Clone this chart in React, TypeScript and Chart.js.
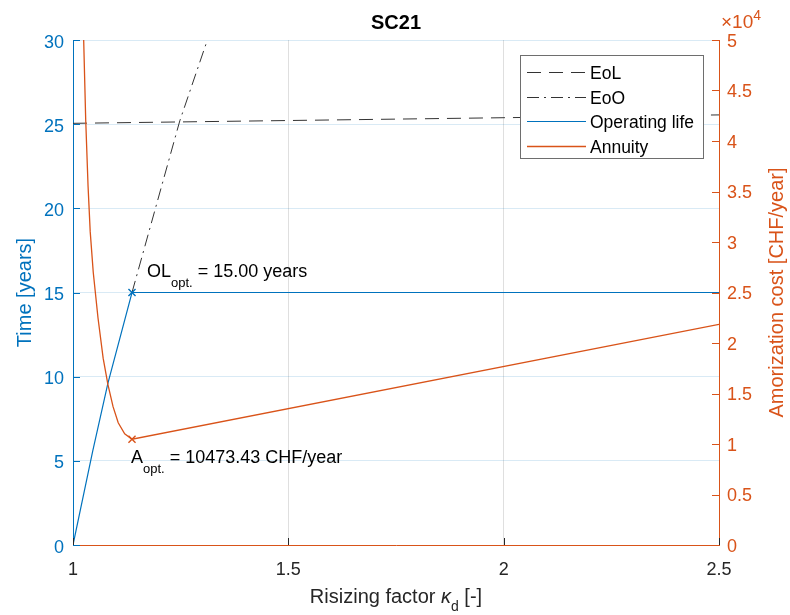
import React, { useEffect, useRef } from "react";
import { Chart, registerables } from "chart.js";

Chart.register(...registerables);

// ---- data -------------------------------------------------------------
const kappaTicks = [1, 1.5, 2, 2.5];
const timeTicks = [0, 5, 10, 15, 20, 25, 30];
const costTicks = [0, 5000, 10000, 15000, 20000, 25000, 30000, 35000, 40000, 45000, 50000];

// End of life (calendar ageing limit)
const eolKappa = [1.0, 2.5];
const eolYears = [25.05, 25.55];

// End of operation (cycling limit)
const eooKappa = [1.137, 1.248, 1.312];
const eooYears = [15.0, 25.2, 30.0];

// Resulting operating life
const olKappa = [1.0, 1.046, 1.081, 1.137, 2.5];
const olYears = [0, 5.6, 9.6, 15.0, 15.0];

// Annuity of the amortization cost
const annuityKappa = [1.0225, 1.0248, 1.0295, 1.035, 1.04, 1.047, 1.058, 1.07, 1.081, 1.093, 1.105, 1.12, 1.137, 2.5];
const annuityCost = [56000, 50000, 42100, 35500, 31000, 27000, 22500, 18500, 15900, 13700, 12100, 11000, 10473.43, 21850];

// Optimum
const kappaOpt = 1.137;
const olOpt = 15.0;
const annuityOpt = 10473.43;

// ---- styling ------------------------------------------------------------
const BLUE = "#0072BD";
const ORANGE = "#D95319";
const DARK = "#262626";
const FONT = '"Liberation Sans", Arial, Helvetica, sans-serif';

type Run = { text: string; size: number; dy?: number; italic?: boolean; bold?: boolean; color?: string };

const fontOf = (r: Run) => `${r.italic ? "italic " : ""}${r.bold ? "bold " : ""}${r.size}px ${FONT}`;

function runsWidth(ctx: CanvasRenderingContext2D, runs: Run[]) {
  let w = 0;
  for (const r of runs) {
    ctx.font = fontOf(r);
    w += ctx.measureText(r.text).width;
  }
  return w;
}

function drawRuns(
  ctx: CanvasRenderingContext2D,
  runs: Run[],
  x: number,
  y: number,
  align: "left" | "center" | "right",
  color: string
) {
  const w = runsWidth(ctx, runs);
  let cx = align === "center" ? x - w / 2 : align === "right" ? x - w : x;
  ctx.textAlign = "left";
  ctx.textBaseline = "alphabetic";
  for (const r of runs) {
    ctx.font = fontOf(r);
    ctx.fillStyle = r.color ?? color;
    ctx.fillText(r.text, cx, y + (r.dy ?? 0));
    cx += ctx.measureText(r.text).width;
  }
}

const pts = (xs: number[], ys: number[]) => xs.map((x, i) => ({ x, y: ys[i] }));

const fmtCost = (v: number) => String(Math.round((v / 10000) * 10) / 10);

// Axis decorations in the style of a yyaxis figure: inward ticks, labels,
// titles, exponent, annotations and an inset legend.
const decorations = {
  id: "yyDecorations",
  afterDraw(chart: any) {
    const { ctx, chartArea: ca, scales } = chart;
    const sx = scales.x;
    const yl = scales.y;
    const yr = scales.y2;
    const tick = 7;
    ctx.save();

    // inward tick marks
    ctx.lineWidth = 1;
    ctx.strokeStyle = BLUE;
    ctx.beginPath();
    for (const v of timeTicks) {
      const py = Math.round(yl.getPixelForValue(v)) + 0.5;
      ctx.moveTo(ca.left, py);
      ctx.lineTo(ca.left + tick, py);
    }
    ctx.stroke();
    ctx.strokeStyle = ORANGE;
    ctx.beginPath();
    for (const v of costTicks) {
      const py = Math.round(yr.getPixelForValue(v)) + 0.5;
      ctx.moveTo(ca.right, py);
      ctx.lineTo(ca.right - tick, py);
    }
    ctx.stroke();
    ctx.strokeStyle = DARK;
    ctx.beginPath();
    for (const v of kappaTicks) {
      const px = Math.round(sx.getPixelForValue(v)) + 0.5;
      ctx.moveTo(px, ca.bottom);
      ctx.lineTo(px, ca.bottom - tick);
    }
    ctx.stroke();

    // tick labels
    for (const v of timeTicks) {
      drawRuns(ctx, [{ text: String(v), size: 18 }], ca.left - 9, yl.getPixelForValue(v) + 7.5, "right", BLUE);
    }
    for (const v of costTicks) {
      drawRuns(ctx, [{ text: fmtCost(v), size: 18 }], ca.right + 8, yr.getPixelForValue(v) + 6.5, "left", ORANGE);
    }
    for (const v of kappaTicks) {
      drawRuns(ctx, [{ text: String(v), size: 18 }], sx.getPixelForValue(v), ca.bottom + 30, "center", DARK);
    }

    // exponent of the right axis
    drawRuns(
      ctx,
      [
        { text: "\u00d7", size: 19 },
        { text: "10", size: 19 },
        { text: "4", size: 14, dy: -8 },
      ],
      ca.right + 2,
      28,
      "left",
      ORANGE
    );

    // title
    drawRuns(ctx, [{ text: "SC21", size: 20, bold: true }], (ca.left + ca.right) / 2, 29, "center", "#000");

    // x-axis title
    drawRuns(
      ctx,
      [
        { text: "Risizing factor ", size: 20 },
        { text: "\u03ba", size: 20, italic: true },
        { text: "d", size: 14, dy: 8 },
        { text: " [-]", size: 20 },
      ],
      (ca.left + ca.right) / 2,
      603,
      "center",
      DARK
    );

    // rotated y-axis titles
    const midY = (ca.top + ca.bottom) / 2;
    ctx.save();
    ctx.translate(31, midY);
    ctx.rotate(-Math.PI / 2);
    drawRuns(ctx, [{ text: "Time [years]", size: 20 }], 0, 0, "center", BLUE);
    ctx.restore();
    ctx.save();
    ctx.translate(783, midY);
    ctx.rotate(-Math.PI / 2);
    drawRuns(ctx, [{ text: "Amorization cost [CHF/year]", size: 20 }], 0, 0, "center", ORANGE);
    ctx.restore();

    // annotations at the optimum
    const pxOpt = sx.getPixelForValue(kappaOpt);
    const pyOl = yl.getPixelForValue(olOpt);
    const pyA = yr.getPixelForValue(annuityOpt);
    drawRuns(
      ctx,
      [
        { text: "OL", size: 18 },
        { text: "opt.", size: 13, dy: 10 },
        { text: ` = ${olOpt.toFixed(2)} years`, size: 18 },
      ],
      pxOpt + 15,
      pyOl - 16,
      "left",
      "#000"
    );
    drawRuns(
      ctx,
      [
        { text: "A", size: 18 },
        { text: "opt.", size: 13, dy: 10 },
        { text: ` = ${annuityOpt.toFixed(2)} CHF/year`, size: 18 },
      ],
      pxOpt - 1,
      pyA + 24,
      "left",
      "#000"
    );

    // inset legend
    const lx = 520.5;
    const ly = 55.5;
    const lw = 183;
    const lh = 103;
    ctx.fillStyle = "#fff";
    ctx.fillRect(lx, ly, lw, lh);
    ctx.strokeStyle = "#6e6e6e";
    ctx.lineWidth = 1;
    ctx.setLineDash([]);
    ctx.strokeRect(lx, ly, lw, lh);
    const rows = chart.data.datasets.filter((d: any) => d.inLegend);
    rows.forEach((d: any, i: number) => {
      const cy = Math.round(72 + i * 24.5) + 0.5;
      ctx.strokeStyle = d.borderColor;
      ctx.lineWidth = d.borderWidth;
      ctx.setLineDash(d.borderDash || []);
      ctx.beginPath();
      ctx.moveTo(527, cy);
      ctx.lineTo(586, cy);
      ctx.stroke();
      ctx.setLineDash([]);
      drawRuns(ctx, [{ text: d.label, size: 17.5 }], 590, cy + 6.5, "left", "#000");
    });

    ctx.restore();
  },
};

export default function App() {
  const ref = useRef<HTMLCanvasElement | null>(null);

  useEffect(() => {
    document.body.style.margin = "0";
    const canvas = ref.current;
    if (!canvas) return;

    const chart = new Chart(canvas, {
      type: "line",
      data: {
        datasets: [
          {
            label: "EoL",
            inLegend: true,
            data: pts(eolKappa, eolYears),
            yAxisID: "y",
            borderColor: "#333333",
            borderWidth: 1,
            borderDash: [14, 8],
            pointRadius: 0,
            tension: 0,
            order: 6,
          },
          {
            label: "EoO",
            inLegend: true,
            data: pts(eooKappa, eooYears),
            yAxisID: "y",
            borderColor: "#333333",
            borderWidth: 1,
            borderDash: [12, 5, 2, 5],
            pointRadius: 0,
            tension: 0,
            order: 5,
          },
          {
            label: "Operating life",
            inLegend: true,
            data: pts(olKappa, olYears),
            yAxisID: "y",
            borderColor: BLUE,
            borderWidth: 1.2,
            pointRadius: 0,
            tension: 0,
            order: 4,
          },
          {
            label: "Annuity",
            inLegend: true,
            data: pts(annuityKappa, annuityCost),
            yAxisID: "y2",
            borderColor: ORANGE,
            borderWidth: 1.3,
            pointRadius: 0,
            tension: 0,
            order: 3,
          },
          {
            label: "OL opt",
            data: [{ x: kappaOpt, y: olOpt }],
            yAxisID: "y",
            showLine: false,
            pointStyle: "crossRot",
            pointRadius: 5,
            pointBorderWidth: 1.4,
            pointBorderColor: BLUE,
            borderColor: BLUE,
            order: 2,
          },
          {
            label: "A opt",
            data: [{ x: kappaOpt, y: annuityOpt }],
            yAxisID: "y2",
            showLine: false,
            pointStyle: "crossRot",
            pointRadius: 5,
            pointBorderWidth: 1.4,
            pointBorderColor: ORANGE,
            borderColor: ORANGE,
            order: 1,
          },
        ] as any,
      },
      options: {
        responsive: false,
        animation: false,
        events: [],
        layout: { padding: { top: 40, left: 0, right: 0, bottom: 0 } },
        plugins: {
          legend: { display: false },
          title: { display: false },
          tooltip: { enabled: false },
        },
        scales: {
          x: {
            type: "linear",
            min: 1,
            max: 2.5,
            afterBuildTicks: (s: any) => {
              s.ticks = kappaTicks.map((value) => ({ value }));
            },
            ticks: { display: false },
            grid: { color: "rgba(38,38,38,0.15)", drawTicks: false },
            border: { display: true, color: ORANGE, width: 1 },
            afterFit: (s: any) => {
              s.height = 70;
            },
          },
          y: {
            type: "linear",
            position: "left",
            min: 0,
            max: 30,
            afterBuildTicks: (s: any) => {
              s.ticks = timeTicks.map((value) => ({ value }));
            },
            ticks: { display: false },
            grid: { color: "rgba(0,114,189,0.15)", drawTicks: false },
            border: { display: true, color: BLUE, width: 1 },
            afterFit: (s: any) => {
              s.width = 73;
            },
          },
          y2: {
            type: "linear",
            position: "right",
            min: 0,
            max: 50000,
            afterBuildTicks: (s: any) => {
              s.ticks = costTicks.map((value) => ({ value }));
            },
            ticks: { display: false },
            grid: { drawOnChartArea: false, drawTicks: false },
            border: { display: true, color: ORANGE, width: 1 },
            afterFit: (s: any) => {
              s.width = 71;
            },
          },
        },
      } as any,
      plugins: [decorations],
    });

    return () => chart.destroy();
  }, []);

  return (
    <div style={{ position: "fixed", left: 0, top: 0, width: 790, height: 615, background: "#fff" }}>
      <canvas ref={ref} width={790} height={615} />
    </div>
  );
}
